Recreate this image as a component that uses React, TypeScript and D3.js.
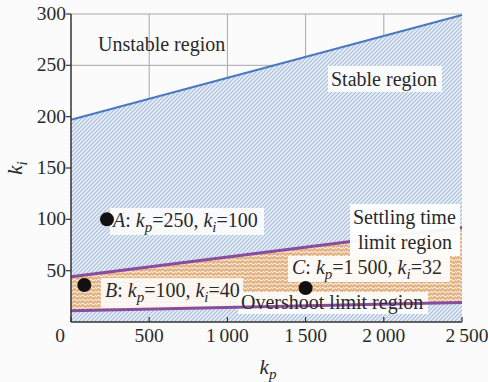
import React from 'react';
import * as d3 from 'd3';

// chart values
const kpTicks = [0, 500, 1000, 1500, 2000, 2500];
const kiTicks = [50, 100, 150, 200, 250, 300];
const gridKp = [500, 1000, 1500, 2000];
const gridKi = [250, 300];

// boundaries [kp, ki]
const stableLine = [[0, 197], [2500, 299]];
const settlingLine = [[0, 44], [2500, 92]];
const overshootLine = [[0, 11], [2500, 19]];

// operating points
const pointNames = ['A', 'B', 'C'];
const pointKp = [230, 85, 1500];
const pointKi = [100, 36, 33];

const W = 488;
const H = 382;
const FONT = '"Liberation Serif", "Times New Roman", serif';

const App = () => {
  const x = d3.scaleLinear().domain([0, 2500]).range([71, 462]);
  const y = d3.scaleLinear().domain([0, 300]).range([322, 14]);

  const line = d3.line().x((d) => x(d[0])).y((d) => y(d[1]));

  // stable region: below the blue boundary
  const stableArea = d3
    .area()
    .x((d) => x(d[0]))
    .y0(y(0))
    .y1((d) => y(d[1]));

  // orange region: between overshoot and settling lines
  const band = settlingLine.map((d, i) => [d[0], overshootLine[i][1], d[1]]);
  const bandArea = d3
    .area()
    .x((d) => x(d[0]))
    .y0((d) => y(d[1]))
    .y1((d) => y(d[2]));

  const fmt = (v) => (v >= 1000 ? `${Math.floor(v / 1000)}\u2009${String(v % 1000).padStart(3, '0')}` : `${v}`);

  const sub = (letter, s) => [
    <tspan key={letter + s + 'a'} fontStyle="italic">{letter}</tspan>,
    <tspan key={letter + s + 'b'} fontStyle="italic" fontSize={15} dy={5}>{s}</tspan>,
  ];

  return (
    <svg width={W} height={H} style={{ position: 'absolute', left: 0, top: 0, fontFamily: FONT }}>
      <defs>
        <pattern id="blueHatch" patternUnits="userSpaceOnUse" width={4} height={4}>
          <rect width={4} height={4} fill="#e9eff7" />
          <path d="M-1,1 l2,-2 M0,4 l4,-4 M3,5 l2,-2" stroke="#a6bcda" strokeWidth={1.1} />
        </pattern>
        <pattern id="orangeHatch" patternUnits="userSpaceOnUse" width={8} height={4}>
          <rect width={8} height={4} fill="#f7eadb" />
          <path d="M-1,1 l2,-2 M0,4 l4,-4 M3,5 l2,-2 M4,4 l4,-4 M7,5 l2,-2" stroke="#b8c4d8" strokeWidth={1} />
          <path d="M0,2 H8" stroke="#eda55a" strokeWidth={1.4} />
          <path d="M2,0 V2 M6,2 V4" stroke="#eda55a" strokeWidth={1.2} />
        </pattern>
      </defs>
      <rect width={W} height={H} fill="#fbfbfb" />

      {/* grid */}
      {gridKp.map((v) => (
        <line key={'gx' + v} x1={x(v)} x2={x(v)} y1={y(300)} y2={y(0)} stroke="#a8a8a8" strokeWidth={1} />
      ))}
      {gridKi.map((v) => (
        <line key={'gy' + v} x1={x(0)} x2={x(2500)} y1={y(v)} y2={y(v)} stroke="#a8a8a8" strokeWidth={1} />
      ))}

      {/* regions */}
      <path d={stableArea(stableLine)} fill="url(#blueHatch)" />
      <path d={bandArea(band)} fill="url(#orangeHatch)" />

      <path d={line(stableLine)} fill="none" stroke="#4a78c0" strokeWidth={2} />
      <path d={line(settlingLine)} fill="none" stroke="#8a4c9c" strokeWidth={3} />

      {/* label boxes */}
      <rect x={328} y={66} width={114} height={26} fill="#ffffff" opacity={0.9} />
      <rect x={110} y={208} width={154} height={27} fill="#ffffff" opacity={0.85} />
      <rect x={101} y={278} width={142} height={30} fill="#ffffff" opacity={0.85} />
      <rect x={288} y={256} width={162} height={26} fill="#ffffff" opacity={0.9} />
      <rect x={350} y={204} width={110} height={52} fill="#ffffff" opacity={0.95} />
      <rect x={238} y={292} width={190} height={22} fill="#ffffff" opacity={0.9} />

      <path d={line(overshootLine)} fill="none" stroke="#8a4c9c" strokeWidth={3} />

      {/* axes */}
      <line x1={x(0)} x2={x(0)} y1={y(300)} y2={y(0)} stroke="#333" strokeWidth={1.5} />
      <line x1={x(0)} x2={x(2500)} y1={y(0)} y2={y(0)} stroke="#333" strokeWidth={1.5} />
      {kiTicks.map((v) => (
        <g key={'yt' + v}>
          <line x1={x(0) - 5} x2={x(0)} y1={y(v)} y2={y(v)} stroke="#333" strokeWidth={1.2} />
          <text x={x(0) - 5} y={y(v) + 6} textAnchor="end" fontSize={19.5} fill="#2a2a2a">{v}</text>
        </g>
      ))}
      {kpTicks.map((v, i) => (
        <g key={'xt' + v}>
          <line x1={x(v)} x2={x(v)} y1={y(0)} y2={y(0) - 5} stroke="#333" strokeWidth={1.2} />
          <text
            x={x(v) + (i === 0 ? -11 : i === kpTicks.length - 1 ? 5 : 0)}
            y={342}
            textAnchor="middle"
            fontSize={19.5}
            fill="#2a2a2a"
          >
            {fmt(v)}
          </text>
        </g>
      ))}
      <text x={268} y={374} textAnchor="middle" fontSize={21} fill="#2a2a2a">
        {sub('k', 'p')}
      </text>
      <text transform="translate(22,168) rotate(-90)" textAnchor="middle" fontSize={21} fill="#2a2a2a">
        {sub('k', 'i')}
      </text>

      {/* points */}
      {pointNames.map((n, i) => (
        <circle key={n} cx={x(pointKp[i])} cy={y(pointKi[i])} r={7} fill="#111" />
      ))}

      {/* region labels */}
      <g fontSize={20} fill="#2a2a2a">
        <text x={98} y={51}>Unstable region</text>
        <text x={331} y={86}>Stable region</text>
        <text x={353} y={224}>Settling time</text>
        <text x={358} y={249}>limit region</text>
        <text x={241} y={309}>Overshoot limit region</text>
        <text x={113} y={227}>
          <tspan fontStyle="italic">A</tspan>
          <tspan>: </tspan>
          {sub('k', 'p')}
          <tspan dy={-5}>=250, </tspan>
          {sub('k', 'i')}
          <tspan dy={-5}>=100</tspan>
        </text>
        <text x={105} y={297}>
          <tspan fontStyle="italic">B</tspan>
          <tspan>: </tspan>
          {sub('k', 'p')}
          <tspan dy={-5}>=100, </tspan>
          {sub('k', 'i')}
          <tspan dy={-5}>=40</tspan>
        </text>
        <text x={292} y={274}>
          <tspan fontStyle="italic">C</tspan>
          <tspan>: </tspan>
          {sub('k', 'p')}
          <tspan dy={-5}>=1{'\u2009'}500, </tspan>
          {sub('k', 'i')}
          <tspan dy={-5}>=32</tspan>
        </text>
      </g>
    </svg>
  );
};

export default App;
